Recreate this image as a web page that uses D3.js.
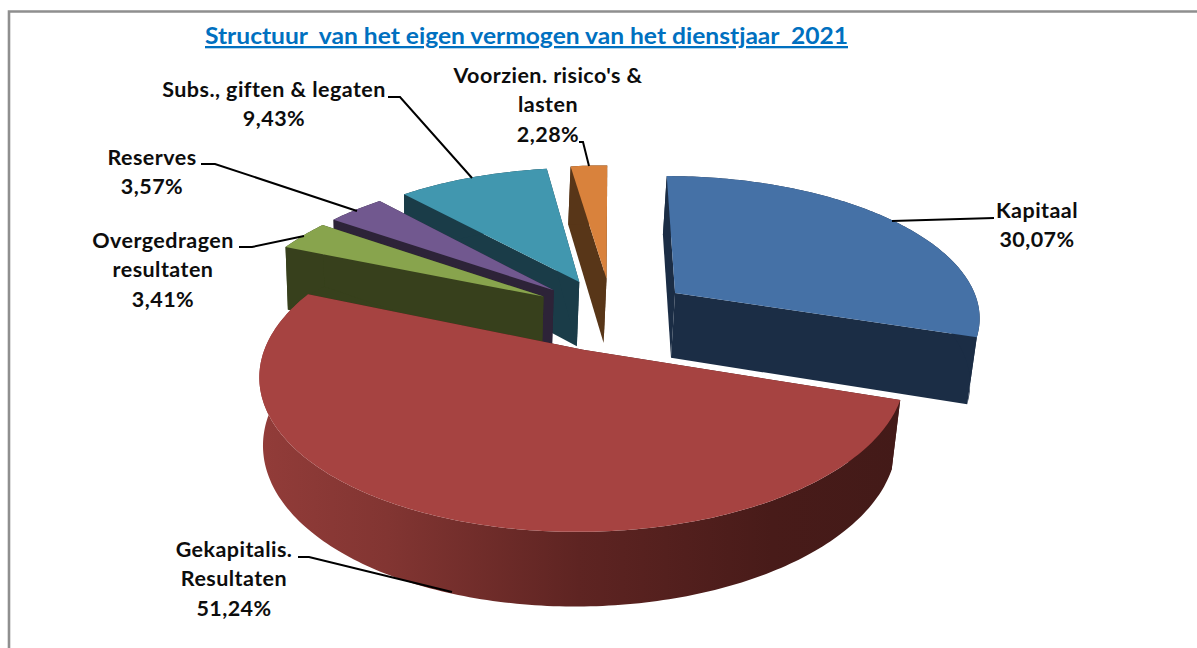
<!DOCTYPE html>
<html>
<head>
<meta charset="utf-8">
<script src="https://cdn.jsdelivr.net/npm/d3@7/dist/d3.min.js"></script>
<style>
html,body{margin:0;padding:0;background:#fff;overflow:hidden}
svg{display:block}
text{font-family:Lato,"Open Sans",sans-serif;font-weight:700}
</style>
</head>
<body>
<svg id="c" width="1197" height="648"></svg>
<script>
const titleText = "Structuur  van het eigen vermogen van het dienstjaar  2021";
const categories = ["Kapitaal","Gekapitalis. Resultaten","Overgedragen resultaten","Reserves","Subs., giften & legaten","Voorzien. risico's & lasten"];
const values = [30.07,51.24,3.41,3.57,9.43,2.28];
const valueLabels = ["30,07%","51,24%","3,41%","3,57%","9,43%","2,28%"];
const labelLines = [
  ["Kapitaal","30,07%"],
  ["Gekapitalis.","Resultaten","51,24%"],
  ["Overgedragen","resultaten","3,41%"],
  ["Reserves","3,57%"],
  ["Subs., giften & legaten","9,43%"],
  ["Voorzien. risico's &","lasten","2,28%"]
];
const topColors  = ["#4571a6","#a64341","#88a44d","#71588f","#4197af","#d9823c"];
const wallColors = ["#1b2d45","#4a1b19","#37401c","#2d2338","#1a3c48","#583618"];
const drawOrder = [0,5,4,3,2,1];
const labelCenters = [[1037,218],[234,557],[163,248],[152,165],[274,97],[548,83]];
const leaders = [
  [[892,221],[994,218]],
  [[298,557],[309,557],[452,592]],
  [[239,247],[252,247],[304,236]],
  [[201,164],[215,164],[357,211]],
  [[388,97],[400,97],[472,178]],
  [[579,142],[583,142],[589,166]]
];

const svg = d3.select("#c");
const defs = svg.append("defs");

// projection parameters of the tilted pie
const cx=612, cy=314, S=306.5, T=141.2, D=67.5, persp=0.156, perspY=0.025, perspX=0.018, shiftX=3, explode=0.26;
function project(X,Y,z){
  const wx = 1 + persp*Y + perspX*z;
  const wy = 1 + persp*Y + perspY*z;
  return [cx - shiftX*z + S*X/wx, cy + (-T*Y + D*z)/wy];
}
const pie = d3.pie().sort(null).value(d=>d).startAngle(0).endAngle(2*Math.PI);
const arcs = pie(values);
const line = d3.line();

function offset(a){
  const m=(a.startAngle+a.endAngle)/2;
  return [explode*Math.sin(m),explode*Math.cos(m)];
}
function slicePts(a,z){
  const n = Math.max(4,Math.ceil((a.endAngle-a.startAngle)*60));
  const o = offset(a);
  return d3.range(n+1).map(i=>{
    const t = a.startAngle+(a.endAngle-a.startAngle)*i/n;
    return project(o[0]+Math.sin(t),o[1]+Math.cos(t),z);
  });
}

// Rim gradient of the large slice
const grad = defs.append("linearGradient").attr("id","rim").attr("gradientUnits","userSpaceOnUse")
  .attr("x1",259).attr("y1",0).attr("x2",900).attr("y2",0);
[[0,"#923c39"],[0.2,"#823532"],[0.5,"#5e2422"],[0.8,"#481b19"],[1,"#431a18"]].forEach(s=>
  grad.append("stop").attr("offset",s[0]).attr("stop-color",s[1]));

// frame
svg.append("path").attr("d","M9,648V11.5H1197").attr("fill","none").attr("stroke","#8f8f8f").attr("stroke-width",2.6);

const g = svg.append("g");
drawOrder.forEach(i=>{
  const a=arcs[i], o=offset(a);
  const apexT=project(o[0],o[1],0), apexB=project(o[0],o[1],1);
  const topArc=slicePts(a,0), botArc=slicePts(a,1);
  const wall=wallColors[i];
  g.append("path").attr("d",line([apexT,topArc[0],botArc[0],apexB])+"Z").attr("fill",wall);
  g.append("path").attr("d",line([apexT,topArc[topArc.length-1],botArc[botArc.length-1],apexB])+"Z").attr("fill",wall);
  g.append("path").attr("d",line(topArc.concat(botArc.slice().reverse()))+"Z")
    .attr("fill",i===1?"url(#rim)":wall);
  g.append("path").attr("d",line([apexT].concat(topArc))+"Z").attr("fill",topColors[i]);
});

// leader lines
leaders.forEach(l=>{
  svg.append("path").attr("d",line(l)).attr("fill","none").attr("stroke","#000").attr("stroke-width",2);
});

// labels
labelLines.forEach((lines,i)=>{
  const t=svg.append("text").attr("text-anchor","middle").attr("font-size",21.5)
    .attr("letter-spacing",0.45).attr("fill","#0d0d0d");
  lines.forEach((s,j)=>t.append("tspan").attr("x",labelCenters[i][0]).attr("y",labelCenters[i][1]+j*29.3).text(s));
});

// title
svg.append("text").attr("x",205).attr("y",44).attr("font-size",23).attr("fill","#0070c0")
  .attr("text-decoration","underline").attr("xml:space","preserve").style("white-space","pre")
  .attr("textLength",643).attr("lengthAdjust","spacingAndGlyphs").text(titleText);
</script>
</body>
</html>
